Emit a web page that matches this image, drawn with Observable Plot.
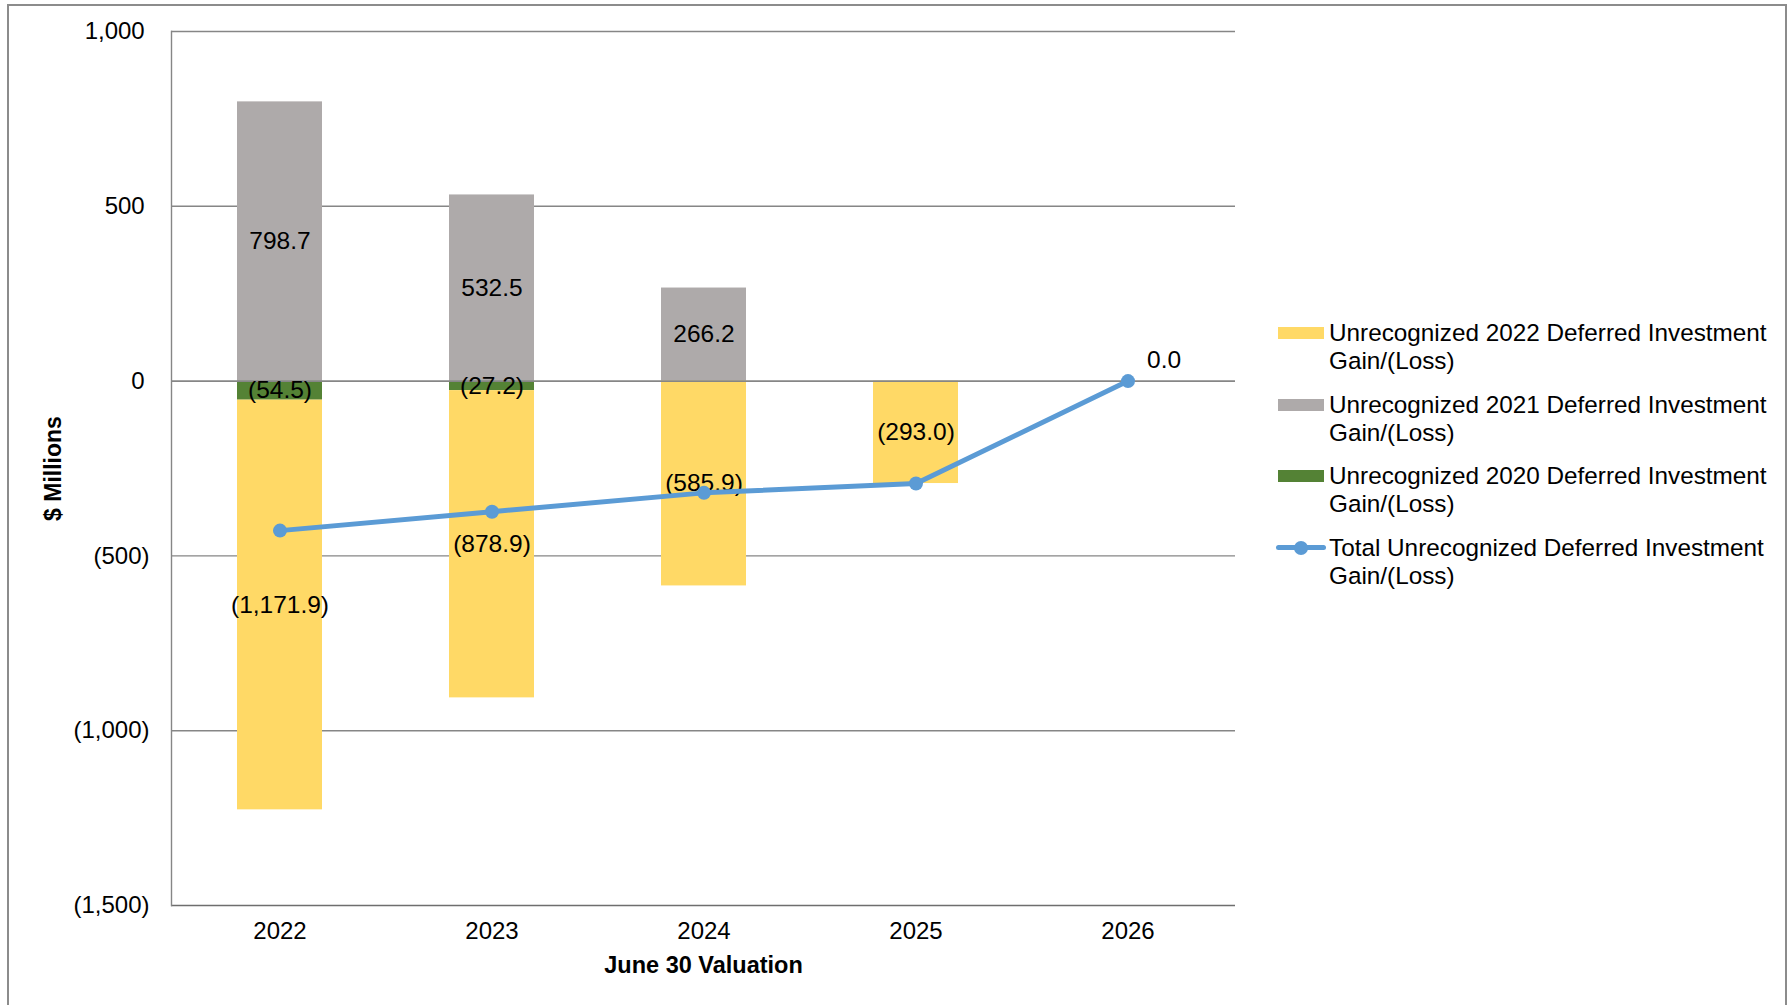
<!DOCTYPE html>
<html><head><meta charset="utf-8">
<script src="https://cdn.jsdelivr.net/npm/d3@7"></script>
<script src="https://cdn.jsdelivr.net/npm/@observablehq/plot@0.6"></script>
<style>
body{margin:0;background:#fff;font-family:"Liberation Sans",Arial,sans-serif;}
#wrap{position:relative;width:1789px;height:1005px;overflow:hidden;background:#fff;}
#border{position:absolute;left:7px;top:4px;width:1780px;height:1020px;border:2.5px solid #8c8c8c;box-sizing:border-box;pointer-events:none;}
#chart{position:absolute;left:0;top:0;}
.entry{position:absolute;left:1276px;display:flex;align-items:flex-start;font-size:24.3px;line-height:28px;color:#000;white-space:nowrap;}
.sw{width:50px;height:28px;position:relative;flex:none;margin-right:3px;}
.sw .box{position:absolute;left:2px;right:2px;top:8px;height:12px;}
.sw .ln{position:absolute;left:0;right:0;top:11.5px;height:5px;background:#5B9BD5;border-radius:2.5px;}
.sw .dt{position:absolute;left:18px;top:7px;width:14px;height:14px;border-radius:50%;background:#5B9BD5;}
</style>
</head><body>
<div id="wrap">
  <div id="chart"></div>
  <div id="legend"></div>
  <div id="border"></div>
</div>
<script>
const years = ["2022", "2023", "2024", "2025", "2026"];
const gain2022 = [-1171.9, -878.9, -585.9, -293.0, 0];
const gain2021 = [798.7, 532.5, 266.2, 0, 0];
const gain2020 = [-54.5, -27.2, 0, 0, 0];
const total = [-427.7, -373.6, -319.7, -293.0, 0.0];
const yTicks = [1000, 500, 0, -500, -1000, -1500];
const seriesKeys = ["2020", "2021", "2022"];
const seriesColors = ["#548235", "#AEAAAA", "#FFD966"];
const legendLabels = [
  "Unrecognized 2022 Deferred Investment\nGain/(Loss)",
  "Unrecognized 2021 Deferred Investment\nGain/(Loss)",
  "Unrecognized 2020 Deferred Investment\nGain/(Loss)",
  "Total Unrecognized Deferred Investment\nGain/(Loss)"
];
const lineColor = "#5B9BD5";

const seriesValues = {"2020": gain2020, "2021": gain2021, "2022": gain2022};
const bars = [];
for (const s of seriesKeys) {
  years.forEach((yr, i) => {
    const v = seriesValues[s][i];
    if (v !== 0) bars.push({year: yr, series: s, value: v});
  });
}
const lineData = years.map((yr, i) => ({year: yr, total: total[i]}));

const f1 = d3.format(",.1f");
const f0 = d3.format(",");
const fmt = v => v < 0 ? `(${f1(-v)})` : f1(v);
const tickFmt = v => v < 0 ? `(${f0(-v)})` : f0(v) + "\u2009";

const font = "Liberation Sans, Arial, sans-serif";
const chart = Plot.plot({
  width: 1789,
  height: 1005,
  marginLeft: 171,
  marginRight: 554,
  marginTop: 31,
  marginBottom: 100,
  style: {fontFamily: font, fontSize: "24px", color: "#000", background: "transparent", overflow: "visible"},
  x: {type: "band", domain: years, paddingInner: 0.6, paddingOuter: 0.3, label: null},
  y: {domain: [-1500, 1000], label: null},
  color: {domain: seriesKeys, range: seriesColors},
  marks: [
    Plot.ruleY(yTicks.filter(d => d !== 0 && d !== -1500), {stroke: "#868686", strokeWidth: 1.4}),
    Plot.barY(bars, Plot.stackY({x: "year", y: "value", z: "series", fill: "series"})),
    Plot.ruleY([0], {stroke: "#868686", strokeWidth: 1.6}),
    Plot.ruleY([-1500], {stroke: "#6e6e6e", strokeWidth: 1.6}),
    Plot.frame({anchor: "left", stroke: "#868686", strokeWidth: 1.4}),
    Plot.text(bars, Plot.stackY({x: "year", y: "value", z: "series", text: d => fmt(d.value), fill: "#000", fontSize: 24.5})),
    Plot.line(lineData, {x: "year", y: "total", stroke: lineColor, strokeWidth: 5}),
    Plot.dot(lineData, {x: "year", y: "total", r: 7, fill: lineColor}),
    Plot.text(lineData.filter(d => d.total === 0), {x: "year", y: "total", text: d => fmt(d.total), dx: 19, dy: -21, textAnchor: "start", fill: "#000", fontSize: 24.5}),
    Plot.axisY({ticks: yTicks, tickSize: 0, tickPadding: 22, tickFormat: tickFmt, fontSize: 24, label: null}),
    Plot.axisX({tickSize: 0, tickPadding: 16, fontSize: 24, label: null}),
    Plot.text(["June 30 Valuation"], {frameAnchor: "bottom", dy: 60, fontWeight: "bold", fontSize: 23.5, fill: "#000", lineAnchor: "middle"}),
    Plot.text(["$ Millions"], {frameAnchor: "left", dx: -118, rotate: -90, textAnchor: "middle", fontWeight: "bold", fontSize: 23, fill: "#000", lineAnchor: "middle"})
  ]
});
document.getElementById("chart").appendChild(chart);

const legend = document.getElementById("legend");
const tops = [319, 390.5, 462, 533.5];
legendLabels.forEach((lab, i) => {
  const e = document.createElement("div");
  e.className = "entry";
  e.style.top = tops[i] + "px";
  const sw = document.createElement("div");
  sw.className = "sw";
  if (i < 3) {
    const b = document.createElement("div");
    b.className = "box";
    b.style.background = seriesColors[2 - i];
    sw.appendChild(b);
  } else {
    const l = document.createElement("div"); l.className = "ln"; sw.appendChild(l);
    const d = document.createElement("div"); d.className = "dt"; sw.appendChild(d);
  }
  e.appendChild(sw);
  const t = document.createElement("div");
  t.innerHTML = lab.split("\n").join("<br>");
  e.appendChild(t);
  legend.appendChild(e);
});
</script>
</body></html>
